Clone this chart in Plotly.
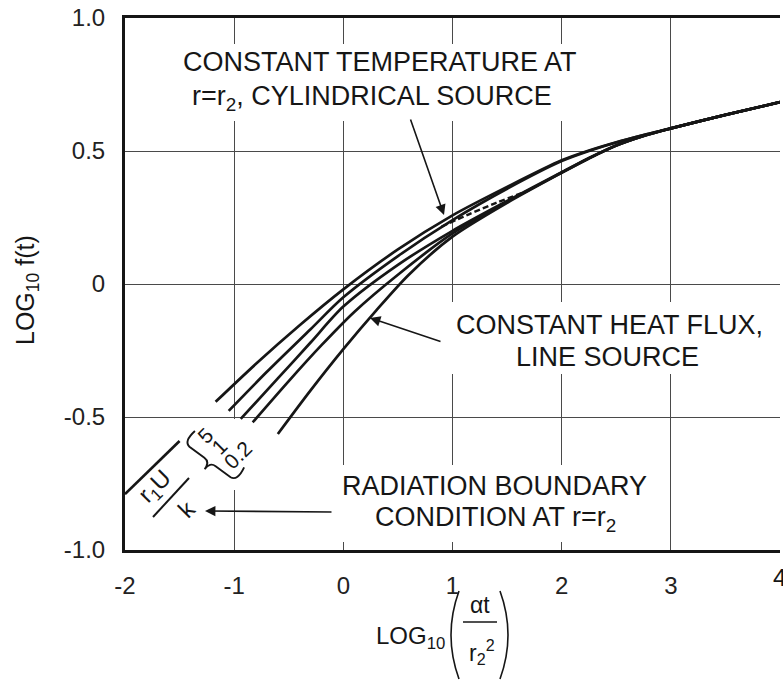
import math
import plotly.graph_objects as go

# ---- curve data: log10(alpha*t / r2^2)  vs  log10 f(t) ----
curve1_x = [-1.17, -0.8, -0.4, 0.0, 0.5, 1.0, 1.5, 2.0, 2.25, 2.5, 2.75, 3.0, 3.5, 4.0]
curve1_y = [-0.443, -0.30, -0.155, -0.02, 0.13, 0.258, 0.365, 0.465, 0.502, 0.533, 0.56, 0.585, 0.636, 0.684]

curve2_x = [-1.05, -0.7, -0.3, 0.0, 0.5, 1.0, 1.5, 2.0, 2.25, 2.5, 2.75, 3.0, 3.5, 4.0]
curve2_y = [-0.477, -0.33, -0.17, -0.05, 0.105, 0.24, 0.358, 0.462, 0.5, 0.532, 0.56, 0.585, 0.636, 0.684]

curve3_x = [-0.94, -0.6, -0.3, 0.0, 0.5, 1.0, 1.5, 2.0, 2.25, 2.5, 2.75, 3.0, 3.5, 4.0]
curve3_y = [-0.507, -0.355, -0.22, -0.085, 0.072, 0.2, 0.312, 0.42, 0.474, 0.521, 0.557, 0.585, 0.636, 0.684]

curve4_x = [-0.83, -0.5, -0.2, 0.1, 0.5, 1.0, 1.5, 2.0, 2.25, 2.5, 2.75, 3.0, 3.5, 4.0]
curve4_y = [-0.52, -0.365, -0.23, -0.105, 0.035, 0.19, 0.309, 0.419, 0.473, 0.521, 0.557, 0.585, 0.636, 0.684]

curve5_x = [-0.6, -0.3, 0.0, 0.3, 0.6, 1.0, 1.5, 2.0, 2.25, 2.5, 2.75, 3.0, 3.5, 4.0]
curve5_y = [-0.564, -0.40, -0.245, -0.10, 0.035, 0.178, 0.305, 0.418, 0.472, 0.521, 0.557, 0.585, 0.636, 0.684]

# constant temperature at r = r2 (cylindrical source)
const_temp_x = [0.9, 1.15, 1.4, 1.7]
const_temp_y = [0.216, 0.262, 0.305, 0.352]

# radiation-boundary short-time branch
radiation_x = [-2.0, -1.5]
radiation_y = [-0.79, -0.59]

x_ticks = [-2, -1, 0, 1, 2, 3, 4]
x_tick_text = ["-2", "-1", "0", "1", "2", "3", "4"]
y_ticks = [-1.0, -0.5, 0.0, 0.5, 1.0]
y_tick_text = ["-1.0", "-0.5", "0", "0.5", "1.0"]

# ---- page geometry ----
W, H = 783, 681
ML, MR, MT, MB = 125, 3, 18, 131
X0, X1 = -2.0, 4.0
Y0, Y1 = -1.0, 1.0
PW, PH = W - ML - MR, H - MT - MB

FONT = "Liberation Sans, Arial, Helvetica, sans-serif"
INK = "#161616"


def dx(px):
    """screen x (pixels) -> data x"""
    return X0 + (px - ML) / PW * (X1 - X0)


def dy(py):
    """screen y (pixels) -> data y"""
    return Y1 - (py - MT) / PH * (Y1 - Y0)


def qx(px):
    """screen x -> paper fraction"""
    return (px - ML) / PW


def qy(py):
    """screen y -> paper fraction"""
    return (MT + PH - py) / PH


fig = go.Figure()

line_style = dict(color=INK, width=2.7, shape="spline", smoothing=0.8)
for xs, ys in [(curve1_x, curve1_y), (curve2_x, curve2_y), (curve3_x, curve3_y),
               (curve4_x, curve4_y), (curve5_x, curve5_y)]:
    fig.add_trace(go.Scatter(x=xs, y=ys, mode="lines", line=line_style,
                             hoverinfo="skip", showlegend=False))

fig.add_trace(go.Scatter(x=const_temp_x, y=const_temp_y, mode="lines",
                         line=dict(color=INK, width=2.4, dash="6px,3px",
                                   shape="spline", smoothing=0.8),
                         hoverinfo="skip", showlegend=False))

fig.add_trace(go.Scatter(x=radiation_x, y=radiation_y, mode="lines",
                         line=dict(color=INK, width=2.7),
                         hoverinfo="skip", showlegend=False))

shapes = []


# white panels behind the labels (mask the grid, sit under the curves)
def mask(px0, py0, px1, py1):
    shapes.append(dict(type="rect", xref="x", yref="y", layer="between",
                       x0=dx(px0), x1=dx(px1), y0=dy(py0), y1=dy(py1),
                       fillcolor="white", line=dict(width=0)))


mask(172, 44, 590, 121)
mask(433, 302, 783, 374)
mask(333, 465, 664, 542)
mask(189, 419, 246, 490)

# fraction bar of r1U/k
shapes.append(dict(type="line", xref="x", yref="y",
                   x0=dx(153), y0=dy(517), x1=dx(189), y1=dy(478),
                   line=dict(color=INK, width=2)))

# curly brace grouping the r1U/k values
ax_, ay_ = 183.0, 442.0
bx_, by_ = 237.0, 482.0
L = math.hypot(bx_ - ax_, by_ - ay_)
ux, uy = (bx_ - ax_) / L, (by_ - ay_) / L
vx, vy = -uy, ux


def bp(s, t):
    px = ax_ + s * ux + t * vx
    py = ay_ + s * uy + t * vy
    return f"{dx(px):.5f},{dy(py):.5f}"


h = L / 2
brace = (f"M {bp(3, -16)} Q {bp(0, -1)} {bp(8, 0)} L {bp(h - 7, 0)} "
         f"Q {bp(h, 0)} {bp(h, 9)} Q {bp(h, 0)} {bp(h + 7, 0)} "
         f"L {bp(L - 8, 0)} Q {bp(L, -1)} {bp(L - 3, -16)}")
shapes.append(dict(type="path", xref="x", yref="y", path=brace,
                   line=dict(color=INK, width=1.9)))

# parentheses and fraction bar of the x-axis title
shapes.append(dict(type="path", xref="paper", yref="paper",
                   path=f"M {qx(459):.5f},{qy(591):.5f} Q {qx(443):.5f},{qy(635):.5f} {qx(459):.5f},{qy(679):.5f}",
                   line=dict(color=INK, width=1.6)))
shapes.append(dict(type="path", xref="paper", yref="paper",
                   path=f"M {qx(500):.5f},{qy(591):.5f} Q {qx(516):.5f},{qy(635):.5f} {qx(500):.5f},{qy(679):.5f}",
                   line=dict(color=INK, width=1.6)))
shapes.append(dict(type="line", xref="paper", yref="paper",
                   x0=qx(463), x1=qx(497), y0=qy(622), y1=qy(622),
                   line=dict(color=INK, width=1.6)))

annotations = []


def label(px, py, text, size=27, angle=0, xanchor="center"):
    annotations.append(dict(x=dx(px), y=dy(py), xref="x", yref="y", text=text,
                            showarrow=False, textangle=angle, xanchor=xanchor,
                            yanchor="middle",
                            font=dict(family=FONT, size=size, color=INK)))


def plabel(px, py, text, size=23, angle=0, xanchor="center"):
    annotations.append(dict(x=qx(px), y=qy(py), xref="paper", yref="paper", text=text,
                            showarrow=False, textangle=angle, xanchor=xanchor,
                            yanchor="middle",
                            font=dict(family=FONT, size=size, color=INK)))


def arrow(tx, ty, hx, hy):
    annotations.append(dict(x=dx(hx), y=dy(hy), ax=dx(tx), ay=dy(ty),
                            xref="x", yref="y", axref="x", ayref="y", text="",
                            showarrow=True, arrowhead=2, arrowsize=1.3,
                            arrowwidth=1.6, arrowcolor=INK, standoff=0))


label(380, 62, "CONSTANT TEMPERATURE AT")
label(372, 98, "r=r<sub>2</sub>, CYLINDRICAL SOURCE")
label(609, 325, "CONSTANT HEAT FLUX,")
label(607, 357, "LINE SOURCE")
label(494, 486, "RADIATION BOUNDARY")
label(495, 519, "CONDITION AT r=r<sub>2</sub>")

arrow(410, 118, 444, 215)
arrow(442, 342, 370, 318)
arrow(333, 512, 205, 511)

label(155, 487, "r<sub>1</sub>U", size=24, angle=-45)
label(186, 509, "k", size=24, angle=-45)
label(205, 435, "5", size=21, angle=-45)
label(219, 446, "1", size=21, angle=-45)
label(237, 455, "0.2", size=21, angle=-45)

# tick label at the clipped right edge
plabel(779, 577, "4", size=24)

# axis titles
plabel(447, 638, "LOG<sub>10</sub>", size=24, xanchor="right")
plabel(480, 605, "αt", size=23)
plabel(482, 652, "r<sub>2</sub><sup>2</sup>", size=23)
plabel(27, 290, "LOG<sub>10</sub> f(t)", size=25, angle=-90)

fig.update_layout(
    width=W, height=H,
    margin=dict(l=ML, r=MR, t=MT, b=MB, pad=0),
    paper_bgcolor="white", plot_bgcolor="white",
    showlegend=False,
    shapes=shapes, annotations=annotations,
    xaxis=dict(range=[X0, X1], tickmode="array", tickvals=x_ticks, ticktext=x_tick_text,
               showgrid=False, zeroline=False, ticks="",
               showline=True, linecolor=INK, linewidth=3, mirror=True,
               ticklabelstandoff=12,
               tickfont=dict(family=FONT, size=24, color="#222"),
               minor=dict(tickmode="array", tickvals=[-1, 0, 1, 2, 3], showgrid=True,
                          gridcolor="#4a4a4a", gridwidth=1.4, ticks=""),
               fixedrange=True),
    yaxis=dict(range=[Y0, Y1], tickmode="array", tickvals=y_ticks, ticktext=y_tick_text,
               showgrid=True, gridcolor="#4a4a4a", gridwidth=1.4, zeroline=False, ticks="",
               showline=True, linecolor=INK, linewidth=3,
               ticklabelstandoff=12,
               tickfont=dict(family=FONT, size=24, color="#222"),
               fixedrange=True),
)

fig.write_html("out.html")
